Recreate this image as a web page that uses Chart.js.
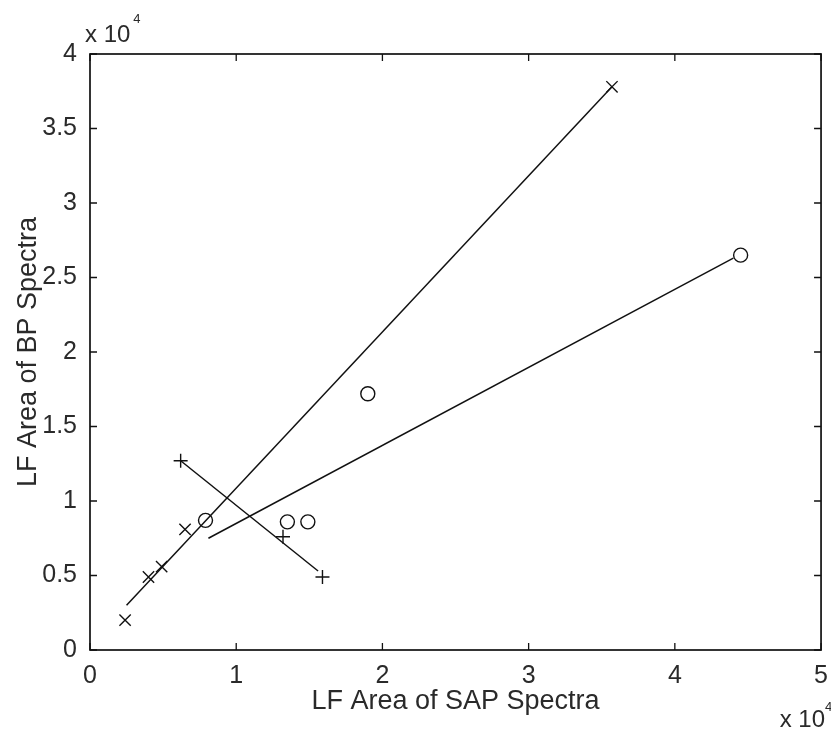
<!DOCTYPE html>
<html>
<head>
<meta charset="utf-8">
<script src="https://cdn.jsdelivr.net/npm/chart.js@4.4.1/dist/chart.umd.min.js"></script>
<style>
html,body{margin:0;padding:0;background:#fff;}
#wrap{width:831px;height:734px;}
</style>
</head>
<body>
<div id="wrap"><canvas id="c" width="831" height="734"></canvas></div>
<script>
// Data (units of 10^4)
const crossSAP = [0.24, 0.40, 0.49, 0.65, 3.57];
const crossBP  = [0.20, 0.49, 0.56, 0.81, 3.78];
const circleSAP = [0.79, 1.35, 1.49, 1.90, 4.45];
const circleBP  = [0.87, 0.86, 0.86, 1.72, 2.65];
const plusSAP = [0.62, 1.32, 1.59];
const plusBP  = [1.27, 0.76, 0.49];
// fitted lines (endpoints)
const crossFitSAP = [0.25, 3.57];
const crossFitBP  = [0.30, 3.78];
const circleFitSAP = [0.81, 4.40];
const circleFitBP  = [0.75, 2.63];
const plusFitSAP = [0.62, 1.56];
const plusFitBP  = [1.27, 0.53];
const xTicks = [0, 1, 2, 3, 4, 5];
const yTicks = [0, 0.5, 1, 1.5, 2, 2.5, 3, 3.5, 4];
const xTitle = 'LF Area of SAP Spectra';
const yTitle = 'LF Area of BP Spectra';
const expBase = 'x 10';
const expPow = '4';

const pts = (xs, ys) => xs.map((x, i) => ({x: x, y: ys[i]}));
const INK = '#111';
const TXT = '#2a2a2a';
const tickFont = {family: 'Liberation Sans', size: 25};
const titleFont = {family: 'Liberation Sans', size: 27};

const lineDS = (xs, ys) => ({
  data: pts(xs, ys), showLine: true, pointRadius: 0, borderColor: INK,
  borderWidth: 1.5, fill: false
});
const markDS = (xs, ys, style, r) => ({
  data: pts(xs, ys), showLine: false, pointStyle: style, pointRadius: r,
  pointBorderColor: INK, pointBackgroundColor: 'rgba(0,0,0,0)', pointBorderWidth: 1.4
});

const frame = {
  id: 'frame',
  afterDraw(chart) {
    const {ctx, chartArea: a, scales: {x, y}} = chart;
    ctx.save();
    ctx.strokeStyle = INK;
    ctx.lineWidth = 1.7;
    ctx.strokeRect(a.left, a.top, a.right - a.left, a.bottom - a.top);
    ctx.lineWidth = 1.3;
    const L = 7;
    ctx.beginPath();
    xTicks.forEach(v => {
      const px = x.getPixelForValue(v);
      ctx.moveTo(px, a.bottom); ctx.lineTo(px, a.bottom - L);
      ctx.moveTo(px, a.top); ctx.lineTo(px, a.top + L);
    });
    yTicks.forEach(v => {
      const py = y.getPixelForValue(v);
      ctx.moveTo(a.left, py); ctx.lineTo(a.left + L, py);
      ctx.moveTo(a.right, py); ctx.lineTo(a.right - L, py);
    });
    ctx.stroke();
    // exponent labels
    ctx.fillStyle = TXT;
    ctx.textBaseline = 'alphabetic';
    ctx.textAlign = 'left';
    ctx.font = '24px "Liberation Sans"';
    ctx.fillText(expBase, 85, 42);
    const w1 = ctx.measureText(expBase).width;
    ctx.font = '13px "Liberation Sans"';
    ctx.fillText(expPow, 85 + w1 + 3, 23);
    ctx.font = '24px "Liberation Sans"';
    const w2 = ctx.measureText(expBase).width;
    ctx.fillText(expBase, 825 - w2, 727);
    ctx.font = '13px "Liberation Sans"';
    ctx.fillText(expPow, 825, 711);
    ctx.restore();
  }
};

new Chart(document.getElementById('c'), {
  type: 'scatter',
  data: {
    datasets: [
      lineDS(crossFitSAP, crossFitBP),
      lineDS(circleFitSAP, circleFitBP),
      lineDS(plusFitSAP, plusFitBP),
      markDS(crossSAP, crossBP, 'crossRot', 8),
      markDS(circleSAP, circleBP, 'circle', 7),
      markDS(plusSAP, plusBP, 'cross', 7)
    ]
  },
  options: {
    responsive: false,
    animation: false,
    layout: {padding: {left: 12, right: 3, top: 54, bottom: 16}},
    plugins: {legend: {display: false}, tooltip: {enabled: false}},
    scales: {
      x: {
        type: 'linear', min: 0, max: 5,
        grid: {display: false}, border: {display: false},
        ticks: {stepSize: 1, color: TXT, font: tickFont, padding: 3, maxRotation: 0,
          callback: v => String(v)},
        title: {display: true, text: xTitle, color: TXT, font: titleFont, padding: 0},
        afterFit: s => { s.height = 68; }
      },
      y: {
        type: 'linear', min: 0, max: 4,
        grid: {display: false}, border: {display: false},
        ticks: {stepSize: 0.5, color: TXT, font: tickFont, padding: 5,
          callback: v => String(v)},
        title: {display: true, text: yTitle, color: TXT, font: titleFont, padding: 0},
        afterFit: s => { s.width = 78; }
      }
    }
  },
  plugins: [frame]
});
</script>
</body>
</html>
